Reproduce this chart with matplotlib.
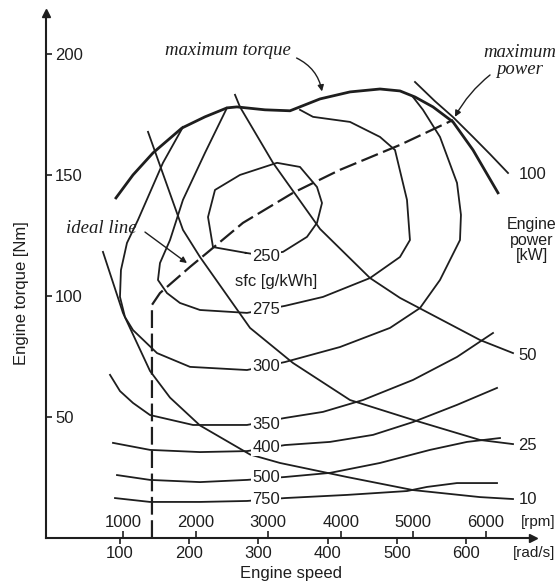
import numpy as np
import matplotlib
matplotlib.use("Agg")
import matplotlib.pyplot as plt

plt.rcParams['font.family'] = ['Liberation Sans', 'DejaVu Sans']

# ---------------- data (engine speed in rad/s, torque in Nm) ----------------
torque_max_w = [94.2, 118.8, 147.7, 189.6, 222.8, 254.6, 269.0, 309.5, 345.7, 389.0,
                432.4, 475.7, 504.6, 526.3, 552.3, 581.2, 610.1, 646.2]
torque_max_T = [140.5, 150.0, 159.1, 169.4, 174.0, 177.7, 178.1, 176.9, 176.5, 181.4,
                184.3, 185.5, 184.7, 182.2, 178.1, 171.9, 160.3, 142.6]

# constant power lines [kW]
power_levels = ["100", "50", "25", "10"]
p100_w = [526.3, 555.0, 581.2, 610.1, 635.0, 660.7]
p100_T = [188.4, 180.5, 173.9, 165.7, 158.5, 150.8]
p50_w = [266.2, 273.4, 321.1, 389.0, 461.3, 504.6, 620.2, 667.9]
p50_T = [183.1, 178.1, 155.0, 127.7, 107.4, 99.2, 81.8, 76.4]
p25_w = [140.5, 191.0, 215.6, 287.9, 350.0, 432.4, 523.4, 620.2, 667.9]
p25_T = [167.8, 127.3, 116.1, 86.8, 72.3, 57.0, 48.8, 40.5, 38.8]
p10_w = [75.4, 104.3, 143.4, 172.3, 215.6, 287.9, 331.2, 428.0, 523.4, 620.2, 667.9]
p10_T = [118.2, 93.0, 69.0, 58.0, 46.5, 34.5, 31.0, 25.2, 19.8, 16.9, 16.1]

# specific fuel consumption contours [g/kWh]
sfc_levels = ["250", "275", "300", "350", "400", "500", "750"]
sfc250_w = [281.8, 234.4, 227.2, 237.3, 273.4, 326.9, 360.1, 384.7, 391.9, 384.7, 370.2, 335.5, 300.0, 281.8]
sfc250_T = [117.8, 120.2, 132.6, 143.8, 150.0, 155.0, 153.3, 145.0, 138.4, 130.2, 124.4, 118.2, 117.0, 117.8]
sfc275_w = [254.6, 222.8, 191.0, 172.3, 157.8, 154.9, 167.9, 186.7, 215.6, 283.5, 338.4, 393.3, 461.3,
            504.6, 519.0, 514.7, 497.4, 475.7, 432.4, 378.9, 360.1]
sfc275_T = [177.7, 159.1, 139.7, 123.1, 113.6, 106.6, 101.2, 97.1, 94.2, 93.0, 95.9, 99.6, 107.4,
            116.1, 123.1, 139.7, 160.3, 165.7, 171.9, 174.0, 176.9]
sfc300_w = [191.0, 162.1, 126.0, 110.1, 101.4, 100.0, 107.2, 118.8, 153.5, 201.2, 283.5, 338.4, 417.9,
            490.2, 533.5, 562.4, 591.3, 592.7, 587.0, 562.4, 537.8, 523.4]
sfc300_T = [169.8, 155.0, 131.4, 121.9, 110.7, 99.6, 91.3, 85.9, 76.4, 70.7, 69.4, 72.7, 78.9,
            86.8, 95.0, 106.6, 123.1, 133.5, 146.7, 165.7, 176.9, 182.2]
sfc350_w = [85.6, 100.0, 118.8, 143.4, 205.5, 283.5, 338.4, 393.3, 451.1, 523.4, 587.0, 639.0]
sfc350_T = [67.4, 60.7, 55.8, 50.8, 46.7, 46.7, 49.6, 52.1, 57.0, 65.3, 74.8, 84.7]
sfc400_w = [89.9, 143.4, 215.6, 283.5, 338.4, 403.5, 465.6, 523.4, 587.0, 644.8]
sfc400_T = [39.3, 36.4, 35.5, 35.9, 38.4, 39.7, 42.6, 47.9, 55.0, 62.0]
sfc500_w = [95.7, 143.4, 215.6, 283.5, 338.4, 403.5, 475.7, 548.0, 601.4, 649.1]
sfc500_T = [26.0, 24.0, 23.1, 24.0, 25.2, 26.9, 31.0, 36.4, 39.7, 41.3]
sfc750_w = [92.8, 143.4, 215.6, 283.5, 338.4, 428.0, 514.7, 543.6, 587.0, 644.8]
sfc750_T = [16.5, 14.9, 14.9, 15.3, 16.5, 17.8, 19.4, 21.1, 22.7, 22.7]

# ideal operating line
ideal_w = [146.2, 146.2, 157.8, 201.2, 225.7, 277.7, 350.0, 417.9, 504.6, 581.2]
ideal_T = [0.0, 96.3, 101.2, 112.0, 117.8, 130.2, 142.6, 152.1, 162.4, 172.7]

rad_ticks = [100, 200, 300, 400, 500, 600]
rpm_ticks = [1000, 2000, 3000, 4000, 5000, 6000]
torque_ticks = [50, 100, 150, 200]

# ---------------- figure ----------------
INK = '#1e1e1e'
fig = plt.figure(figsize=(5.6, 5.86), dpi=100)
ax = fig.add_axes([46 / 560, 48 / 586, 487 / 560, 525 / 586])
ax.set_xlim(-6.9, 696.8)
ax.set_ylim(0, 216.9)

for s in ['top', 'right']:
    ax.spines[s].set_visible(False)
for s in ['left', 'bottom']:
    ax.spines[s].set_linewidth(1.5)
    ax.spines[s].set_color(INK)

# arrows at the end of the axes
ax.plot(1, 0, marker='>', color=INK, markersize=6, transform=ax.transAxes, clip_on=False)
ax.plot(0, 1, marker='^', color=INK, markersize=6, transform=ax.transAxes, clip_on=False)

# curves
ax.plot(torque_max_w, torque_max_T, color=INK, lw=2.0, zorder=3, solid_joinstyle='round')
for w, T in [(p100_w, p100_T), (p50_w, p50_T), (p25_w, p25_T), (p10_w, p10_T)]:
    ax.plot(w, T, color=INK, lw=1.3, zorder=2, solid_joinstyle='round')
for w, T in [(sfc250_w, sfc250_T), (sfc275_w, sfc275_T), (sfc300_w, sfc300_T),
             (sfc350_w, sfc350_T), (sfc400_w, sfc400_T), (sfc500_w, sfc500_T),
             (sfc750_w, sfc750_T)]:
    ax.plot(w, T, color=INK, lw=1.3, zorder=2, solid_joinstyle='round')
ln, = ax.plot(ideal_w, ideal_T, color=INK, lw=1.6, zorder=2)
ln.set_dashes((8, 2.5))

# sfc labels
sfc_label_T = [116.5, 94.2, 70.7, 46.7, 37.2, 24.8, 15.7]
for lab, T in zip(sfc_levels, sfc_label_T):
    ax.text(311, T, lab, ha='center', va='center', fontsize=12, color=INK, zorder=5,
            bbox=dict(boxstyle='square,pad=0.05', fc='white', ec='none'))
ax.text(325, 105.8, 'sfc [g/kWh]', ha='center', va='center', fontsize=12, color=INK)

# power labels
power_label_T = [150.0, 75.6, 38.4, 15.7]
for lab, T in zip(power_levels, power_label_T):
    ax.text(676, T, lab, ha='left', va='center', fontsize=12, color=INK, clip_on=False)
ax.text(695, 123.0, 'Engine\npower\n[kW]', ha='center', va='center', fontsize=11.5,
        color=INK, linespacing=1.05, clip_on=False)

# annotations
serif = dict(family=['Liberation Serif', 'DejaVu Serif'], style='italic', fontsize=13.5, color=INK)
ax.text(256, 201.6, 'maximum torque', ha='center', va='center', **serif)
ax.annotate('', xy=(391.9, 184.5), xytext=(355.2, 198.3),
            arrowprops=dict(arrowstyle='-|>', color=INK, lw=1.0, mutation_scale=9,
                            connectionstyle='arc3,rad=-0.25', shrinkA=0, shrinkB=0))
ax.text(678, 197.0, 'maximum\npower', ha='center', va='center', linespacing=0.95,
        clip_on=False, **serif)
ax.annotate('', xy=(584.0, 174.0), xytext=(634.7, 191.3),
            arrowprops=dict(arrowstyle='-|>', color=INK, lw=1.0, mutation_scale=9,
                            connectionstyle='arc3,rad=0.1', shrinkA=0, shrinkB=0))
ax.text(72.5, 127.7, 'ideal line', ha='center', va='center', **serif)
ax.annotate('', xy=(196.8, 113.6), xytext=(136.1, 126.4),
            arrowprops=dict(arrowstyle='-|>', color=INK, lw=1.0, mutation_scale=9,
                            connectionstyle='arc3,rad=0.0', shrinkA=0, shrinkB=0))

# ticks
ax.set_yticks(torque_ticks, [str(t) for t in torque_ticks])
ax.tick_params(axis='y', which='major', direction='in', length=4, width=1.2,
               pad=-6.5, labelsize=12, colors=INK)
for lab in ax.get_yticklabels():
    lab.set_horizontalalignment('left')

ax.set_xticks(rad_ticks, [str(t) for t in rad_ticks])
ax.set_xticks([r * np.pi / 30 for r in rpm_ticks], [str(r) for r in rpm_ticks], minor=True)
ax.tick_params(axis='x', which='major', direction='out', length=4, width=1.2,
               pad=2, labelsize=12, colors=INK)
ax.tick_params(axis='x', which='minor', direction='in', length=5, width=1.2,
               pad=-16.5, labelsize=12, colors=INK)

ax.text(729.0, 6.6, '[rpm]', ha='right', va='center', fontsize=11, color=INK, clip_on=False)
ax.text(729.0, -6.2, '[rad/s]', ha='right', va='center', fontsize=11, color=INK, clip_on=False)

ax.text(0.504, -0.0667, 'Engine speed', transform=ax.transAxes, ha='center', va='center',
        fontsize=12, color=INK)
ax.text(-0.05, 0.467, 'Engine torque [Nm]', transform=ax.transAxes, ha='center',
        va='center', rotation=90, fontsize=12, color=INK)

fig.savefig('out.png', dpi=100)
